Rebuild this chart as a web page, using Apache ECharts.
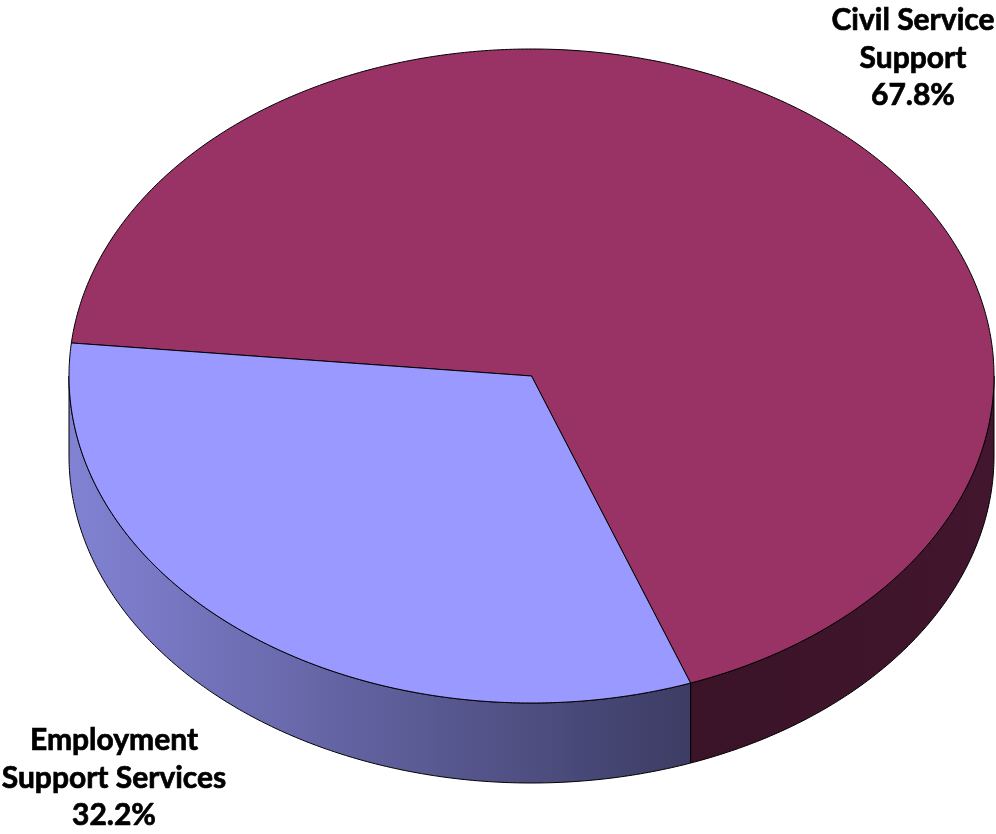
<!DOCTYPE html>
<html>
<head>
<meta charset="utf-8">
<title>Budget split</title>
<script src="https://cdn.jsdelivr.net/npm/echarts@6/dist/echarts.min.js"></script>
<style>
  html, body { margin: 0; padding: 0; background: #ffffff; }
  #chart { width: 996px; height: 834px; }
</style>
</head>
<body>
<div id="chart"></div>
<script>
// Slice names, label lines and shares (percent of total)
const categories = ['Civil Service Support', 'Employment Support Services'];
const labelLines = [['Civil Service', 'Support'], ['Employment', 'Support Services']];
const shares = [67.8, 32.2];

// Colours: top face and side wall (side gradient: left -> right)
const topColors = ['#993366', '#9999FF'];
const sideColors = [['#3a1327', '#42162e'], ['#8282d4', '#3c3c64']];

// Projected disc geometry
const geo = { cx: 531.5, cy: 376, rx: 462.5, ry: 327, depth: 80, startDeg: 174.2 };
// Where each slice's label sits (centre of the text block)
const labelPos = [[913, 58], [114, 778]];

const total = shares.reduce((a, b) => a + b, 0);

function pt(deg, dy) {
  const t = deg * Math.PI / 180;
  return [geo.cx + geo.rx * Math.cos(t), geo.cy - geo.ry * Math.sin(t) + (dy || 0)];
}

function arc(from, to, dy) {
  const pts = [];
  const n = Math.max(2, Math.ceil(Math.abs(to - from) / 0.5));
  for (let k = 0; k <= n; k++) pts.push(pt(from + (to - from) * k / n, dy));
  return pts;
}

function renderItem(params, api) {
  const i = params.dataIndex;
  const value = api.value(0);
  let cum = 0;
  for (let j = 0; j < i; j++) cum += shares[j];
  // Slices run clockwise from the start angle
  const a0 = geo.startDeg - 360 * cum / total;
  const a1 = a0 - 360 * value / total;

  const children = [];

  // Side wall: only the front half of the rim (angles in [-180+360k, 360k]) is visible
  for (let k = -1; k <= 1; k++) {
    const lo = Math.max(a1, k * 360 - 180);
    const hi = Math.min(a0, k * 360);
    if (hi - lo <= 0.01) continue;
    const topArc = arc(lo, hi, 0);
    const botArc = arc(hi, lo, geo.depth);
    const pts = topArc.concat(botArc);
    children.push({
      type: 'polygon',
      z2: 1,
      shape: { points: pts },
      style: {
        fill: new echarts.graphic.LinearGradient(0, 0, 1, 0, [
          { offset: 0, color: sideColors[i][0] },
          { offset: 1, color: sideColors[i][1] }
        ]),
        stroke: '#000000',
        lineWidth: 1
      }
    });
  }

  // Top face
  const topPts = [[geo.cx, geo.cy]].concat(arc(a0, a1, 0));
  children.push({
    type: 'polygon',
    z2: 2,
    shape: { points: topPts },
    style: { fill: topColors[i], stroke: '#000000', lineWidth: 1 }
  });

  // Label: name lines plus share
  children.push({
    type: 'text',
    z2: 3,
    style: {
      text: labelLines[i].concat([value.toFixed(1) + '%']).join('\n'),
      x: labelPos[i][0],
      y: labelPos[i][1],
      align: 'center',
      verticalAlign: 'middle',
      fontFamily: 'Lato',
      fontWeight: 'bold',
      fontSize: 30,
      lineHeight: 37.5,
      fill: '#000000',
      stroke: '#000000',
      lineWidth: 0.7
    }
  });

  return { type: 'group', children: children };
}

const chart = echarts.init(document.getElementById('chart'), null, { renderer: 'canvas' });
chart.setOption({
  animation: false,
  backgroundColor: '#ffffff',
  series: [{
    type: 'custom',
    coordinateSystem: 'none',
    renderItem: renderItem,
    data: shares.map((v, i) => ({ name: categories[i], value: v }))
  }]
});
</script>
</body>
</html>
